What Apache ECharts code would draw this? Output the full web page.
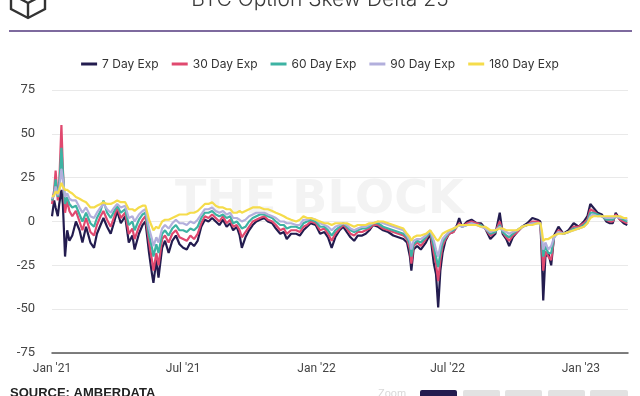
<!DOCTYPE html>
<html><head><meta charset="utf-8">
<script src="https://cdn.jsdelivr.net/npm/echarts@6/dist/echarts.min.js"></script>
<style>html,body{margin:0;padding:0;background:#fff}#c{width:640px;height:396px}</style>
</head><body><div id="c"></div>
<script>
const seriesNames = ['7 Day Exp','30 Day Exp','60 Day Exp','90 Day Exp','180 Day Exp'];
const seriesColors = ['#231c4f','#e0496f','#3db3a3','#b2afdc','#f5dc4b'];
const xTickDates = ['2021-01-01','2021-07-01','2022-01-01','2022-07-01','2023-01-01'];
const xTickLabels = ["Jan '21","Jul '21","Jan '22","Jul '22","Jan '23"];
const yTicks = [-75,-50,-25,0,25,50,75];
const dates = ['2021-01-01','2021-01-04','2021-01-06','2021-01-09','2021-01-11','2021-01-14','2021-01-16','2021-01-19','2021-01-22','2021-01-25','2021-01-29','2021-02-03','2021-02-08','2021-02-12','2021-02-17','2021-02-23','2021-02-28','2021-03-04','2021-03-09','2021-03-13','2021-03-18','2021-03-23','2021-03-28','2021-04-01','2021-04-06','2021-04-12','2021-04-17','2021-04-22','2021-04-25','2021-05-01','2021-05-06','2021-05-10','2021-05-15','2021-05-19','2021-05-21','2021-05-25','2021-05-28','2021-06-02','2021-06-06','2021-06-11','2021-06-16','2021-06-21','2021-06-26','2021-07-01','2021-07-06','2021-07-11','2021-07-16','2021-07-21','2021-07-26','2021-07-31','2021-08-05','2021-08-10','2021-08-15','2021-08-20','2021-08-25','2021-08-30','2021-09-04','2021-09-08','2021-09-13','2021-09-17','2021-09-20','2021-09-25','2021-09-30','2021-10-05','2021-10-10','2021-10-15','2021-10-21','2021-10-26','2021-11-01','2021-11-06','2021-11-12','2021-11-17','2021-11-21','2021-11-27','2021-12-04','2021-12-09','2021-12-14','2021-12-19','2021-12-24','2021-12-31','2022-01-06','2022-01-12','2022-01-17','2022-01-22','2022-01-27','2022-02-02','2022-02-07','2022-02-12','2022-02-17','2022-02-22','2022-02-27','2022-03-05','2022-03-10','2022-03-15','2022-03-20','2022-03-27','2022-04-03','2022-04-10','2022-04-17','2022-04-24','2022-05-01','2022-05-06','2022-05-10','2022-05-12','2022-05-15','2022-05-20','2022-05-25','2022-06-01','2022-06-07','2022-06-12','2022-06-15','2022-06-18','2022-06-21','2022-06-24','2022-06-28','2022-07-03','2022-07-09','2022-07-14','2022-07-17','2022-07-21','2022-07-28','2022-08-03','2022-08-10','2022-08-16','2022-08-22','2022-08-29','2022-09-05','2022-09-11','2022-09-15','2022-09-20','2022-09-24','2022-09-29','2022-10-05','2022-10-12','2022-10-19','2022-10-26','2022-11-02','2022-11-06','2022-11-08','2022-11-10','2022-11-13','2022-11-17','2022-11-21','2022-11-25','2022-12-01','2022-12-08','2022-12-15','2022-12-22','2022-12-29','2023-01-05','2023-01-10','2023-01-14','2023-01-18','2023-01-24','2023-01-30','2023-02-05','2023-02-10','2023-02-14','2023-02-18','2023-02-24','2023-03-01','2023-03-06'];
const exp7 = [3,12,8,3,10,18,10,-20,-5,-11,-8,0,-5,-12,-3,-12,-15,-7,-2,2,-3,-7,0,6,-1,3,-12,-8,-16,-7,-2,0,-18,-30,-35,-22,-32,-15,-11,-18,-11,-8,-13,-15,-16,-12,-14,-11,-3,1,0,2,0,-2,1,-3,-1,-5,-3,-8,-15,-9,-5,-2,0,1,2,0,-1,-4,-7,-6,-10,-7,-7,-8,-5,-3,-1,-2,-7,-6,-9,-15,-9,-5,-3,-6,-9,-11,-8,-8,-7,-5,-2,-3,-5,-6,-8,-9,-10,-12,-20,-28,-16,-14,-16,-12,-7,-24,-30,-49,-28,-18,-11,-7,-6,-2,2,-3,0,1,-1,-1,-4,-10,-7,5,-7,-10,-14,-9,-6,-3,-1,2,1,0,-20,-45,-20,-18,-25,-8,-3,-7,-5,-1,-3,0,3,10,8,5,4,0,-1,-1,5,1,-1,-2];
const exp30 = [10,18,29,12,22,55,30,5,12,6,3,6,0,-5,2,-6,-8,-2,3,6,1,-3,3,8,2,5,-7,-4,-10,-3,1,3,-12,-22,-28,-18,-25,-10,-8,-12,-7,-5,-9,-10,-11,-8,-10,-7,-1,3,2,4,2,0,3,-1,1,-3,-2,-5,-9,-6,-3,0,1,2,3,1,0,-2,-5,-4,-7,-5,-5,-6,-3,-2,0,-1,-5,-4,-7,-11,-7,-4,-2,-4,-7,-8,-6,-6,-5,-4,-2,-2,-4,-5,-6,-7,-8,-10,-16,-24,-14,-12,-14,-10,-6,-18,-24,-34,-22,-14,-10,-7,-6,-3,-1,-3,-1,0,-1,-2,-4,-8,-6,0,-6,-9,-11,-8,-6,-3,-2,0,0,-1,-14,-28,-17,-20,-22,-9,-5,-7,-6,-3,-3,-1,1,7,6,4,3,1,0,0,4,1,0,-1];
const exp60 = [12,16,24,14,20,42,28,10,14,10,8,9,4,0,5,-1,-3,2,6,12,5,2,6,9,5,7,-2,0,-5,1,4,5,-8,-15,-20,-13,-18,-7,-5,-8,-4,-2,-5,-5,-6,-4,-5,-3,2,5,5,6,4,3,4,2,3,-1,0,-2,-4,-3,0,2,3,4,4,3,2,0,-2,-2,-4,-3,-3,-4,-1,0,1,0,-3,-3,-5,-8,-5,-3,-1,-3,-5,-6,-5,-4,-4,-3,-1,-1,-3,-4,-5,-6,-7,-9,-13,-20,-13,-11,-12,-9,-6,-14,-20,-26,-18,-12,-9,-6,-5,-3,-2,-3,-2,-1,-2,-2,-4,-7,-6,-2,-6,-8,-9,-7,-5,-3,-2,-1,-1,-1,-10,-20,-14,-18,-18,-9,-6,-7,-6,-4,-4,-2,0,5,5,4,3,1,1,1,3,2,1,0];
const exp90 = [13,15,20,15,18,30,24,14,16,13,12,12,8,5,8,3,2,5,8,10,7,5,8,10,8,9,2,3,0,4,6,7,-4,-10,-14,-9,-12,-4,-2,-4,-1,1,-1,-1,-2,0,-1,1,4,7,7,8,6,5,6,4,5,2,2,1,0,1,3,4,5,5,5,4,3,2,0,0,-1,-1,-2,-2,1,1,2,1,-1,-2,-3,-5,-3,-2,-1,-2,-4,-5,-4,-3,-3,-2,-1,0,-1,-2,-3,-4,-5,-8,-11,-16,-11,-10,-10,-8,-5,-11,-16,-20,-14,-10,-8,-6,-4,-3,-2,-3,-2,-1,-2,-3,-4,-6,-5,-3,-5,-6,-7,-6,-5,-3,-2,-1,-1,-1,-8,-16,-12,-16,-14,-9,-6,-7,-6,-5,-4,-3,-1,3,4,3,3,2,2,2,3,2,2,1];
const exp180 = [14,15,17,16,18,22,20,18,18,17,16,14,13,12,11,8,8,9,10,11,10,10,11,12,11,11,7,7,6,8,9,9,1,-3,-5,-3,-4,0,1,1,2,3,4,4,4,5,5,6,8,10,10,11,9,8,8,7,7,5,5,6,5,6,7,8,8,8,7,7,6,5,4,3,2,1,0,1,3,2,2,1,0,-1,-1,-2,-1,-1,-1,-1,-2,-3,-2,-2,-2,-1,-1,0,0,-1,-2,-3,-4,-7,-9,-11,-9,-8,-8,-7,-5,-8,-10,-11,-9,-7,-6,-5,-4,-3,-2,-2,-2,-2,-2,-3,-3,-5,-5,-4,-4,-5,-5,-5,-5,-3,-2,-2,-1,-1,-5,-11,-10,-10,-9,-8,-7,-7,-6,-5,-4,-3,-1,2,3,3,3,3,3,3,3,3,2,2];

function toTs(s){const p=s.split('-').map(Number);return Date.UTC(p[0],p[1]-1,p[2]);}
const allSeries=[exp7,exp30,exp60,exp90,exp180];
const tickTs = xTickDates.map(toTs);
const chart = echarts.init(document.getElementById('c'));
chart.setOption({
  animation:false,
  backgroundColor:'#fff',
  grid:{left:52,right:12,top:90,bottom:43,containLabel:false},
  legend:{
    top:53,left:'center',itemWidth:16,itemHeight:3,itemGap:13,icon:'rect',
    textStyle:{fontFamily:'Inter',fontSize:12,color:'#333'},
    data:seriesNames
  },
  graphic:[
    {type:'text',left:'center',top:-11,style:{text:'BTC Option Skew Delta 25',font:'300 21px Inter',fill:'#3a3a3a'},silent:true},
    {type:'polyline',shape:{points:[[11,-6],[11,9],[28,18],[45,9],[45,-6]]},style:{stroke:'#333',lineWidth:2.4,fill:null}},
    {type:'polyline',shape:{points:[[11,-6],[28,3],[45,-6]]},style:{stroke:'#333',lineWidth:2.4,fill:null}},
    {type:'line',shape:{x1:28,y1:3,x2:28,y2:18},style:{stroke:'#333',lineWidth:2.4}},
    {type:'line',shape:{x1:9,y1:31,x2:632,y2:31},style:{stroke:'#7e6a9e',lineWidth:2}},
    {type:'text',left:175,top:178,z:-10,style:{text:'THE BLOCK',font:'bold 46px "DejaVu Sans"',fill:'#f3f3f3'},silent:true},
    {type:'text',left:10,top:387,style:{text:'SOURCE: AMBERDATA',font:'bold 13px "Liberation Sans"',fill:'#222'}},
    {type:'text',left:378,top:388,style:{text:'Zoom',font:'11px "Liberation Sans"',fill:'#d8d8d8'}},
    {type:'rect',shape:{x:420,y:390,width:37,height:12,r:2},style:{fill:'#231c4f'}},
    {type:'rect',shape:{x:463,y:390,width:37,height:12,r:2},style:{fill:'#e2e2e2'}},
    {type:'rect',shape:{x:505,y:390,width:37,height:12,r:2},style:{fill:'#e2e2e2'}},
    {type:'rect',shape:{x:548,y:390,width:37,height:12,r:2},style:{fill:'#e2e2e2'}},
    {type:'rect',shape:{x:590,y:390,width:38,height:12,r:2},style:{fill:'#e2e2e2'}}
  ],
  xAxis:{
    type:'value',min:toTs('2021-01-01'),max:toTs('2023-03-07'),scale:true,
    axisLine:{onZero:false,lineStyle:{color:'#555',width:1.5}},
    axisTick:{show:false},splitLine:{show:false},
    axisLabel:{customValues:tickTs,margin:10,color:'#444',fontFamily:'Roboto',fontSize:12,
      formatter:function(v){const i=tickTs.indexOf(v);return i>=0?xTickLabels[i]:'';}}
  },
  yAxis:{
    type:'value',min:-75,max:75,interval:25,
    axisLine:{show:false},axisTick:{show:false},
    splitLine:{lineStyle:{color:'#e9e9e9',width:1}},
    axisLabel:{margin:17,color:'#444',fontFamily:'Roboto',fontSize:13,
      formatter:function(v){return yTicks.indexOf(v)>=0?String(v):'';}}
  },
  series:allSeries.map((arr,k)=>({
    name:seriesNames[k],type:'line',showSymbol:false,symbol:'none',
    lineStyle:{width:2.2,color:seriesColors[k]},itemStyle:{color:seriesColors[k]},
    z:2+k,
    data:dates.map((d,i)=>[toTs(d),arr[i]])
  }))
});
</script></body></html>
